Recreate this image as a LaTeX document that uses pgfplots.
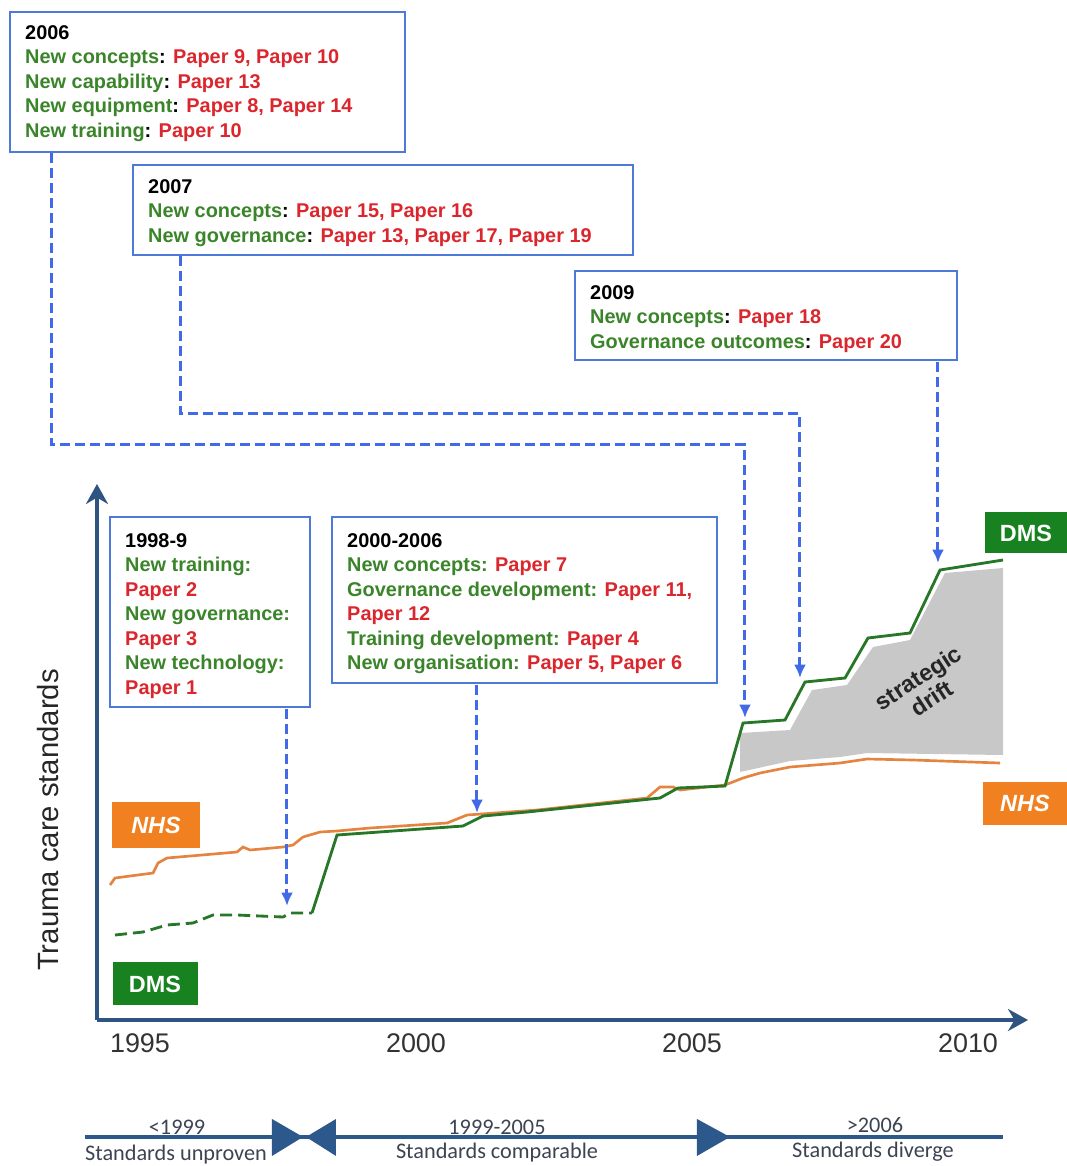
\documentclass[border=0pt]{standalone}
\usepackage{pgfplots}
\pgfplotsset{compat=1.18}
\usepgfplotslibrary{fillbetween}
\usetikzlibrary{arrows.meta}
\usepackage{fontspec}
\setmainfont{Liberation Sans}
\newfontfamily\calib{Carlito}

\definecolor{boxblue}{RGB}{77,121,217}
\definecolor{arrblue}{RGB}{66,106,230}
\definecolor{txtgreen}{RGB}{58,132,42}
\definecolor{txtred}{RGB}{218,38,44}
\definecolor{nhsorange}{RGB}{240,128,32}
\definecolor{nhsline}{RGB}{228,132,64}
\definecolor{dmsgreen}{RGB}{24,130,32}
\definecolor{dmsline}{RGB}{40,118,40}
\definecolor{axisblue}{RGB}{48,84,130}
\definecolor{driftgray}{RGB}{200,200,200}
\definecolor{tlblue}{RGB}{44,88,140}
\definecolor{tltext}{RGB}{60,68,82}

\newcommand{\g}[1]{\textcolor{txtgreen}{#1}}
\newcommand{\rd}[1]{\textcolor{txtred}{#1}}
\newcommand{\boxfont}{\fontsize{17}{20.9}\selectfont\bfseries}
% box: x1 y1 x2 y2 (pixels), text top-left, content
\newcommand{\infobox}[7]{%
  \draw[boxblue, line width=0.06cm] (#1,#2) rectangle (#3,#4);
  \node[anchor=north west, inner sep=0pt, align=left, font=\boxfont] at (#5,#6) {#7};}
\tikzset{darr/.style={arrblue, line width=0.09cm, dash pattern=on 0.3cm off 0.15cm,
  -{Latex[length=0.4cm,width=0.36cm]}}}

\begin{document}
\begin{tikzpicture}
\begin{axis}[
  at={(2.91cm,-30.6cm)}, anchor=south west,
  scale only axis, width=27.93cm, height=16.08cm,
  xmin=1994.221, xmax=2011.087, ymin=146, ymax=682,
  axis x line=bottom, axis y line=left,
  axis line style={line width=0.1cm, axisblue, -{Stealth[length=0.6cm,width=0.66cm]}},
  xtick={1995,2000,2005,2010}, xticklabels={1995,2000,2005,2010},
  ytick=\empty, major tick length=0pt,
  xticklabel style={font=\fontsize{23}{23}\selectfont, text=black!80, yshift=-0.28cm},
  /pgf/number format/assume math mode=true,
]
% strategic drift area
\addplot[draw=none, name path=gtop] coordinates {(2005.870,433) (2006.775,436) (2007.174,476)
  (2007.808,481) (2008.279,519) (2008.949,526) (2009.583,593) (2010.634,598)};
\addplot[draw=none, name path=gbot] coordinates {(2005.870,394) (2006.775,405) (2007.681,409)
  (2008.170,413) (2010.634,411)};
\addplot[driftgray] fill between[of=gtop and gbot];
% NHS
\addplot[nhsline, line width=0.08cm] coordinates {
  (1994.457,281) (1994.547,288) (1995.236,293) (1995.326,303) (1995.489,308) (1996.757,314)
  (1996.866,319) (1996.993,316) (1997.591,319) (1997.772,321) (1997.953,329) (1998.261,334)
  (1998.569,335) (1999.167,338) (2000.562,343) (2000.924,351) (2002.192,356) (2004.185,368)
  (2004.420,379) (2004.656,379) (2004.783,376) (2005.598,381) (2005.924,388) (2006.232,393)
  (2006.775,399) (2007.681,403) (2008.170,407) (2009.004,406) (2010.580,403)};
% DMS
\addplot[dmsline, line width=0.085cm, dash pattern=on 0.36cm off 0.18cm] coordinates {
  (1994.547,231) (1995.054,234) (1995.489,241) (1995.960,243) (1996.322,251) (1996.757,251)
  (1997.591,249) (1997.717,253) (1998.116,253)};
\addplot[dmsline, line width=0.085cm] coordinates {
  (1998.116,253) (1998.569,331) (2000.851,340) (2001.214,350) (2002.011,354) (2004.420,368)
  (2004.746,378) (2005.598,380) (2005.924,443) (2006.685,446) (2007.047,484) (2007.772,488)
  (2008.188,528) (2008.949,533) (2009.493,596) (2010.634,606)};
\end{axis}

\begin{scope}[x=0.03cm, y=-0.03cm]
% info boxes
\infobox{10}{12}{405}{152}{25}{25}{2006\\
  \g{New concepts}: \rd{Paper 9, Paper 10}\\
  \g{New capability}: \rd{Paper 13}\\
  \g{New equipment}: \rd{Paper 8, Paper 14}\\
  \g{New training}: \rd{Paper 10}}
\infobox{133}{165}{633}{255}{148}{179}{2007\\
  \g{New concepts}: \rd{Paper 15, Paper 16}\\
  \g{New governance}: \rd{Paper 13, Paper 17, Paper 19}}
\infobox{575}{271}{957}{360}{590}{285}{2009\\
  \g{New concepts}: \rd{Paper 18}\\
  \g{Governance outcomes}: \rd{Paper 20}}
\infobox{110}{517}{310}{707}{125}{533}{1998-9\\
  \g{New training:}\\ \rd{Paper 2}\\
  \g{New governance:}\\ \rd{Paper 3}\\
  \g{New technology:}\\ \rd{Paper 1}}
\infobox{332}{517}{717}{683}{347}{533}{2000-2006\\
  \g{New concepts:} \rd{Paper 7}\\
  \g{Governance development:} \rd{Paper 11,}\\
  \rd{Paper 12}\\
  \g{Training development:} \rd{Paper 4}\\
  \g{New organisation:} \rd{Paper 5, Paper 6}}
% dashed connectors
\draw[darr] (52,153) -- (52,445) -- (745,445) -- (745,718);
\draw[darr] (181,256) -- (181,414) -- (800,414) -- (800,678);
\draw[darr] (938,362) -- (938,563);
\draw[darr] (287,709) -- (287,906);
\draw[darr] (477,685) -- (477,813);
% series labels
\fill[nhsorange] (112,802) rectangle (200,848);
\node[text=white, font=\fontsize{20}{20}\selectfont\bfseries\itshape] at (156,825) {NHS};
\fill[dmsgreen] (113,962) rectangle (198,1005);
\node[text=white, font=\fontsize{20}{20}\selectfont\bfseries] at (155,984) {DMS};
\fill[dmsgreen] (985,512) rectangle (1067,553);
\node[text=white, font=\fontsize{20}{20}\selectfont\bfseries] at (1026,533) {DMS};
\fill[nhsorange] (983,782) rectangle (1067,825);
\node[text=white, font=\fontsize{20}{20}\selectfont\bfseries\itshape] at (1025,803) {NHS};
% drift label
\node[rotate=33, align=center, font=\fontsize{20}{21}\selectfont\bfseries, text=black!85]
  at (925,688) {strategic\\drift};
% y label
\node[rotate=90, font=\fontsize{25}{25}\selectfont, text=black!85] at (48,820) {Trauma care standards};
% timeline
\draw[tlblue, line width=0.12cm] (85,1137) -- (1003,1137);
\fill[tlblue] (272,1119) -- (303,1137) -- (272,1156) -- cycle;
\fill[tlblue] (336,1119) -- (306,1137) -- (336,1156) -- cycle;
\fill[tlblue] (697,1119) -- (730,1137) -- (697,1156) -- cycle;
\tikzset{tl/.style={text=tltext, font=\calib\fontsize{19}{19}\selectfont}}
\node[tl] at (177,1127) {<1999};
\node[tl] at (176,1155) {Standards unproven};
\node[tl] at (497,1127) {1999-2005};
\node[tl] at (497,1153) {Standards comparable};
\node[tl] at (875,1125) {>2006};
\node[tl] at (873,1152) {Standards diverge};
\end{scope}
\pgfresetboundingbox
\useasboundingbox (0,0) rectangle (32.01cm,-34.98cm);
\end{tikzpicture}
\end{document}
